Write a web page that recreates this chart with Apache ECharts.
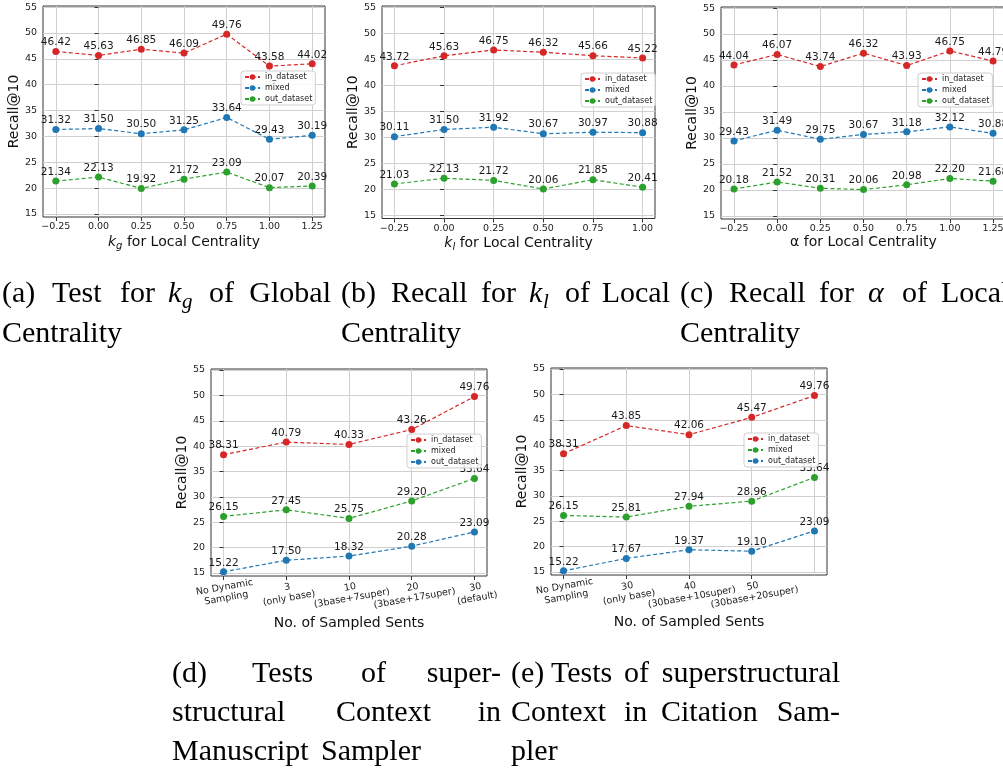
<!DOCTYPE html>
<html><head><meta charset="utf-8">
<script src="https://cdn.jsdelivr.net/npm/echarts@6/dist/echarts.min.js"></script>
<style>html,body{margin:0;padding:0;background:#fff}#c{width:1003px;height:777px}</style>
</head><body><div id="c"></div>
<script>
// ---------- data ----------
const seriesNames = ['in_dataset', 'mixed', 'out_dataset'];
const yTicks = [15, 20, 25, 30, 35, 40, 45, 50, 55];

const xA = [-0.25, 0.00, 0.25, 0.50, 0.75, 1.00, 1.25];
const inA = [46.42, 45.63, 46.85, 46.09, 49.76, 43.58, 44.02];
const mixA = [31.32, 31.50, 30.50, 31.25, 33.64, 29.43, 30.19];
const outA = [21.34, 22.13, 19.92, 21.72, 23.09, 20.07, 20.39];

const xB = [-0.25, 0.00, 0.25, 0.50, 0.75, 1.00];
const inB = [43.72, 45.63, 46.75, 46.32, 45.66, 45.22];
const mixB = [30.11, 31.50, 31.92, 30.67, 30.97, 30.88];
const outB = [21.03, 22.13, 21.72, 20.06, 21.85, 20.41];

const xC = [-0.25, 0.00, 0.25, 0.50, 0.75, 1.00, 1.25];
const inC = [44.04, 46.07, 43.74, 46.32, 43.93, 46.75, 44.79];
const mixC = [29.43, 31.49, 29.75, 30.67, 31.18, 32.12, 30.88];
const outC = [20.18, 21.52, 20.31, 20.06, 20.98, 22.20, 21.68];

const catsD = ['No Dynamic\nSampling', '3\n(only base)', '10\n(3base+7super)', '20\n(3base+17super)', '30\n(default)'];
const inD = [38.31, 40.79, 40.33, 43.26, 49.76];
const mixD = [26.15, 27.45, 25.75, 29.20, 33.64];
const outD = [15.22, 17.50, 18.32, 20.28, 23.09];

const catsE = ['No Dynamic\nSampling', '30\n(only base)', '40\n(30base+10super)', '50\n(30base+20super)', '60\n(default)'];
const inE = [38.31, 43.85, 42.06, 45.47, 49.76];
const mixE = [26.15, 25.81, 27.94, 28.96, 33.64];
const outE = [15.22, 17.67, 19.37, 19.10, 23.09];

// ---------- styling / layout ----------
const RED = '#d62728', BLUE = '#1f77b4', GREEN = '#2ca02c';
const FONT = 'DejaVu Sans';
const chart = echarts.init(document.getElementById('c'), null, {renderer: 'canvas'});

const grids = [], xAxes = [], yAxes = [], series = [], legends = [];
const numFmt = v => (v < 0 ? '\u2212' : '') + Math.abs(v).toFixed(2);
const richName = {
  k: {fontFamily: FONT, fontSize: 14, fontStyle: 'italic', color: '#111'},
  s: {fontFamily: FONT, fontSize: 10, fontStyle: 'italic', color: '#111', padding: [8, 0, 0, 0]},
  n: {fontFamily: FONT, fontSize: 14, color: '#111'}
};

function panel(p) {
  const i = grids.length;
  grids.push({left: p.left, top: p.top, width: p.width, height: p.height, show: true,
    borderColor: '#333', borderWidth: 1, backgroundColor: 'rgba(0,0,0,0)', outerBoundsMode: 'none', containLabel: false});
  xAxes.push({
    gridIndex: i, type: 'value', min: p.xMin, max: p.xMax,
    axisLine: {show: false},
    axisTick: {show: true, customValues: p.xTicks, length: 4, lineStyle: {color: '#333'}},
    axisLabel: Object.assign({customValues: p.xTicks, formatter: p.xFmt, fontFamily: FONT, fontSize: 9.5, color: '#222', margin: 5}, p.xLabelExtra || {}),
    splitLine: {show: true, lineStyle: {color: '#d0d0d0', width: 1}},
    name: p.xName, nameLocation: 'middle', nameGap: p.xNameGap,
    nameTextStyle: {fontFamily: FONT, fontSize: 14, color: '#111', rich: richName}
  });
  yAxes.push({
    gridIndex: i, type: 'value', min: 14.4, max: 55.2,
    axisLine: {show: false},
    axisTick: {show: true, customValues: yTicks, length: 4, lineStyle: {color: '#333'}},
    axisLabel: {customValues: yTicks, fontFamily: FONT, fontSize: 9.5, color: '#222', margin: 6},
    splitLine: {show: true, lineStyle: {color: '#d0d0d0', width: 1}},
    name: 'Recall@10', nameLocation: 'middle', nameGap: p.yNameGap,
    nameTextStyle: {fontFamily: FONT, fontSize: 14, color: '#111'}
  });
  const names = [];
  p.lines.forEach((ys, k) => {
    const nm = seriesNames[k] + '#' + i;
    names.push(nm);
    series.push({
      type: 'line', name: nm, xAxisIndex: i, yAxisIndex: i,
      data: ys.map((y, j) => [p.xs[j], y]),
      symbol: 'circle', symbolSize: 7, color: p.colors[k],
      itemStyle: {color: p.colors[k]},
      lineStyle: {color: p.colors[k], width: 1.2, type: [4, 2.5]},
      label: {show: true, position: 'top', distance: 0, fontFamily: FONT, fontSize: 10.5, color: '#1a1a1a',
        formatter: q => q.value[1].toFixed(2)},
      emphasis: {disabled: true}, animation: false
    });
  });
  legends.push({
    data: names, orient: 'vertical', left: p.legend[0], top: p.legend[1],
    formatter: n => n.split('#')[0],
    itemWidth: 15, itemHeight: 7, itemGap: 3, padding: [2, 3, 2, 3],
    textStyle: {fontFamily: FONT, fontSize: 8, color: '#222'},
    backgroundColor: 'rgba(255,255,255,0.85)', borderColor: '#cfcfcf', borderWidth: 1, borderRadius: 3,
    selectedMode: false, z: 10
  });
}

panel({left: 43, top: 6, width: 282, height: 211, xMin: -0.325, xMax: 1.325, xTicks: xA, xFmt: numFmt,
  xName: '{k|k}{s|g}{n| for Local Centrality}', xNameGap: 16, yNameGap: 21,
  xs: xA, lines: [inA, mixA, outA], colors: [RED, BLUE, GREEN], legend: [241, 71]});
panel({left: 382, top: 6, width: 273, height: 212.5, xMin: -0.3125, xMax: 1.0625, xTicks: xB, xFmt: numFmt,
  xName: '{k|k}{s|l}{n| for Local Centrality}', xNameGap: 16, yNameGap: 20,
  xs: xB, lines: [inB, mixB, outB], colors: [RED, BLUE, GREEN], legend: [581, 73]});
panel({left: 721, top: 7, width: 285, height: 212, xMin: -0.325, xMax: 1.325, xTicks: xC, xFmt: numFmt,
  xName: 'α for Local Centrality', xNameGap: 16, yNameGap: 21,
  xs: xC, lines: [inC, mixC, outC], colors: [RED, BLUE, GREEN], legend: [918, 73]});

const idxD = catsD.map((c, j) => j), idxE = catsE.map((c, j) => j);
panel({left: 211, top: 369, width: 276, height: 207, xMin: -0.2, xMax: 4.2, xTicks: idxD,
  xFmt: v => catsD[Math.round(v)], xLabelExtra: {rotate: 10, align: 'center', verticalAlign: 'top', lineHeight: 11, margin: 6},
  xName: 'No. of Sampled Sents', xNameGap: 40, yNameGap: 19,
  xs: idxD, lines: [inD, mixD, outD], colors: [RED, GREEN, BLUE], legend: [407, 434]});
panel({left: 551, top: 368, width: 276, height: 207, xMin: -0.2, xMax: 4.2, xTicks: idxE,
  xFmt: v => catsE[Math.round(v)], xLabelExtra: {rotate: 10, align: 'center', verticalAlign: 'top', lineHeight: 11, margin: 6},
  xName: 'No. of Sampled Sents', xNameGap: 40, yNameGap: 19,
  xs: idxE, lines: [inE, mixE, outE], colors: [RED, GREEN, BLUE], legend: [744, 433]});

// ---------- captions (justified words) ----------
const CF = '"Liberation Serif", "DejaVu Serif", serif';
const words = [
  // [text, x, baseline, size, italic, align]
  ['(a)', 2, 303], ['Test', 52, 303], ['for', 120, 303], ['k', 168, 303, 30, 1], ['g', 182, 309, 21, 1], ['of', 209, 303], ['Global', 331, 303, 30, 0, 'right'],
  ['(b)', 341, 303], ['Recall', 391, 303], ['for', 481, 303], ['k', 529, 303, 30, 1], ['l', 543, 309, 21, 1], ['of', 565, 303], ['Local', 670, 303, 30, 0, 'right'],
  ['(c)', 680, 303], ['Recall', 729, 303], ['for', 819, 303], ['α', 868, 303, 30, 1], ['of', 902, 303], ['Local', 941, 303],
  ['Centrality', 2, 343], ['Centrality', 341, 343], ['Centrality', 680, 343],
  ['(d)', 172, 683], ['Tests', 252, 683], ['of', 361, 683], ['super-', 501, 683, 30, 0, 'right'],
  ['(e)', 511, 683], ['Tests', 551, 683], ['of', 624, 683], ['superstructural', 840, 683, 30, 0, 'right'],
  ['structural', 172, 722], ['Context', 336, 722], ['in', 501, 722, 30, 0, 'right'],
  ['Context', 511, 722], ['in', 624, 722], ['Citation', 661, 722], ['Sam-', 840, 722, 30, 0, 'right'],
  ['Manuscript', 172, 761], ['Sampler', 321, 761], ['pler', 511, 761]
];
const graphics = words.map(w => {
  const size = w[3] || 30;
  return {type: 'text', x: w[1], y: w[2] - size * 0.3, silent: true,
    style: {text: w[0], fill: '#000', font: (w[4] ? 'italic ' : '') + size + 'px ' + CF, verticalAlign: 'middle', align: w[5] || 'left'}};
});

chart.setOption({
  animation: false,
  backgroundColor: '#fff',
  textStyle: {fontFamily: FONT},
  grid: grids, xAxis: xAxes, yAxis: yAxes, series: series, legend: legends,
  graphic: graphics
});
</script></body></html>
